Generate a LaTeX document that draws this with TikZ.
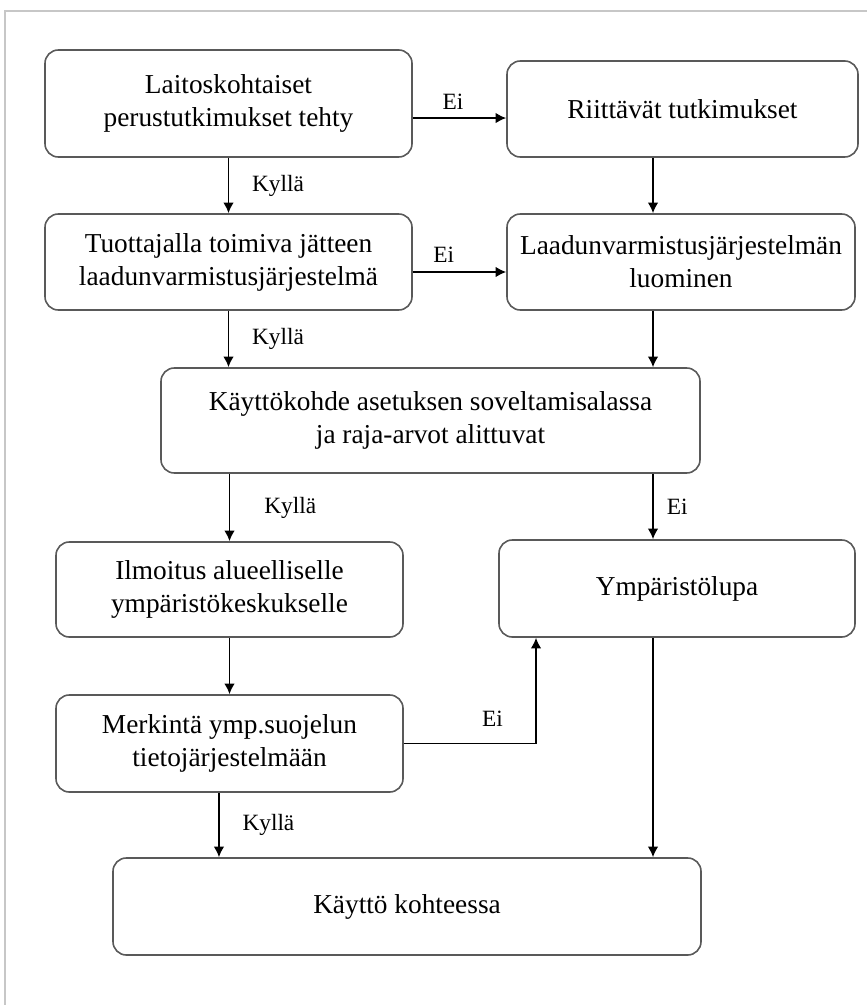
\documentclass[tikz,border=0pt]{standalone}
\usepackage{fontspec}
\setmainfont{Liberation Serif}
\usepackage{tikz}
\usetikzlibrary{shapes,arrows.meta,positioning}

\begin{document}
\begin{tikzpicture}[
    x=0.75pt, y=-0.75pt,
    box/.style={rectangle, rounded corners=10pt, draw=black!65, line width=1.2pt, align=center, inner sep=2pt, font=\fontsize{20.5pt}{24.75pt}\selectfont},
    arr/.style={-{Latex[length=8pt,width=8pt]}, line width=1.3pt, black},
    lab/.style={inner sep=0pt, font=\fontsize{17.5pt}{21pt}\selectfont},
    frame/.style={draw=black!22, line width=1.2pt},
]

\useasboundingbox (0,0) rectangle (867,1005);

% outer frame
\draw[frame] (5,1005) -- (5,11) -- (867,11);

% right column of the connectors
\coordinate (rcol) at (653,0);

% row 1
\node[box, minimum width=275.25pt, minimum height=80.25pt] (lait) at (228.5,103.5) {Laitoskohtaiset\\perustutkimukset tehty};
\node[box, minimum width=263.25pt, minimum height=72pt] (riit) at (682.5,109) {Riittävät tutkimukset};

% row 2
\node[box, minimum width=275.25pt, minimum height=72pt] (tuot) at (228.5,262) {Tuottajalla toimiva jätteen\\laadunvarmistusjärjestelmä};
\node[box, minimum width=261pt, minimum height=72pt] (laad) at (681,262) {Laadunvarmistusjärjestelmän\\luominen};

% row 3
\node[box, minimum width=404.25pt, minimum height=78.75pt] (kayt) at (430.5,420.5) {Käyttökohde asetuksen soveltamisalassa\\ja raja-arvot alittuvat};

% row 4
\node[box, minimum width=260.25pt, minimum height=71.25pt] (ilmo) at (229.5,589.5) {Ilmoitus alueelliselle\\ympäristökeskukselle};
\node[box, minimum width=267pt, minimum height=72.75pt] (ymp) at (677,588.5) {Ympäristölupa};

% row 5
\node[box, minimum width=260.25pt, minimum height=72.75pt] (merk) at (229.5,743.5) {Merkintä ymp.suojelun\\tietojärjestelmään};

% row 6
\node[box, minimum width=441pt, minimum height=72.75pt] (kohd) at (407,906.5) {Käyttö kohteessa};

% Ei-arrows to the right
\draw[arr] ([yshift=-10.9pt]lait.east) -- node[lab, above=6pt, pos=0.43] {Ei} ([yshift=-10.9pt]lait.east -| riit.west);
\draw[arr] ([yshift=-7.5pt]tuot.east) -- node[lab, above=6.75pt, pos=0.33] {Ei} ([yshift=-7.5pt]tuot.east -| laad.west);

% left column
\draw[arr] (lait) -- node[lab, right=17pt] {Kyllä} (tuot);
\draw[arr] (tuot.south) -- node[lab, right=17pt] {Kyllä} (tuot.south |- kayt.north);
\draw[arr] (kayt.south -| ilmo.north) -- node[lab, right=25.5pt] {Kyllä} (ilmo.north);
\draw[arr] (ilmo) -- (merk);
\draw[arr] ([xshift=-7.9pt]merk.south) -- node[lab, right=17pt] {Kyllä} ([xshift=-7.9pt]merk.south |- kohd.north);

% right column
\draw[arr] (riit.south -| rcol) -- (laad.north -| rcol);
\draw[arr] (laad.south -| rcol) -- (kayt.north -| rcol);
\draw[arr] (kayt.south -| rcol) -- node[lab, right=9.75pt] {Ei} (ymp.north -| rcol);
\draw[arr] (ymp.south -| rcol) -- (kohd.north -| rcol);

% back to Ympäristölupa
\draw[arr] (merk.east) -| node[lab, above=12pt, pos=0.335] {Ei} ([xshift=-105.75pt]ymp.south);

\end{tikzpicture}
\end{document}
